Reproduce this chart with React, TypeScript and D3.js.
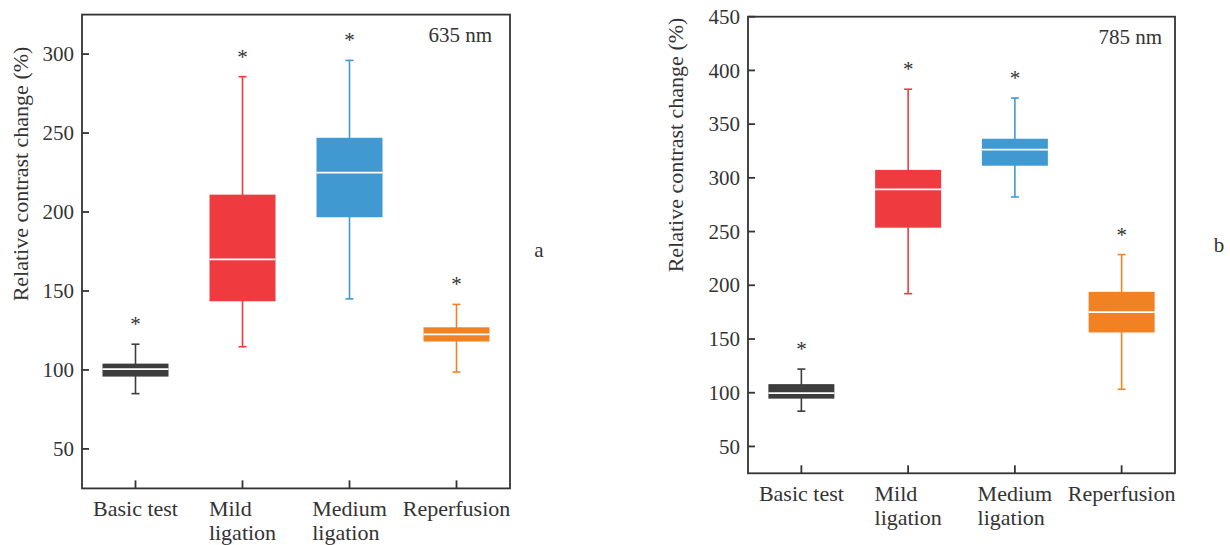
import { useRef, useEffect } from "react";
import * as d3 from "d3";

// categories and labels
const categories = ["Basic test", "Mild ligation", "Medium ligation", "Reperfusion"];
const labelLines = [["Basic test"], ["Mild", "ligation"], ["Medium", "ligation"], ["Reperfusion"]];
const colors = ["#3d3d3d", "#ef3b40", "#4199d2", "#f08224"];

// 635 nm panel
const low635 = [85, 114.7, 145, 98.7];
const q1_635 = [95.8, 143.5, 196.7, 118];
const med635 = [100.5, 170, 225, 122.5];
const q3_635 = [104, 211, 247, 127];
const high635 = [116.3, 285.7, 296, 141.5];
const ticks635 = [50, 100, 150, 200, 250, 300];

// 785 nm panel
const low785 = [82.8, 192.2, 282.2, 103.2];
const q1_785 = [94.5, 253.6, 311.3, 156.1];
const med785 = [99.7, 289.3, 326.2, 175.1];
const q3_785 = [108, 307.4, 336.4, 193.9];
const high785 = [122, 382.5, 374.3, 228.6];
const ticks785 = [50, 100, 150, 200, 250, 300, 350, 400, 450];

const FONT = "'Liberation Serif', 'Times New Roman', serif";
const INK = "#333";

export default function App() {
  const ref = useRef(null);

  function drawChart() {
    const svg = d3.select(ref.current);
    svg.selectAll("*").remove();

    function panel(cfg) {
      const { x0, x1, y0, y1, domain, ticks, low, q1, med, q3, high } = cfg;
      const g = svg.append("g");
      const x = d3.scalePoint().domain(categories).range([x0, x1]).padding(0.5);
      const y = d3.scaleLinear().domain(domain).range([y1, y0]);
      const boxW = 66;
      const rows = categories.map((c, i) => ({
        c, i, low: low[i], q1: q1[i], med: med[i], q3: q3[i], high: high[i],
      }));

      // whiskers, boxes, medians, asterisks
      rows.forEach((d) => {
        const cx = x(d.c);
        const col = colors[d.i];
        g.append("line").attr("x1", cx).attr("x2", cx)
          .attr("y1", y(d.high)).attr("y2", y(d.low))
          .attr("stroke", col).attr("stroke-width", 1.6);
        [d.high, d.low].forEach((v) => {
          g.append("line").attr("x1", cx - 4).attr("x2", cx + 4)
            .attr("y1", y(v)).attr("y2", y(v))
            .attr("stroke", col).attr("stroke-width", 1.6);
        });
        g.append("rect")
          .attr("x", cx - boxW / 2).attr("width", boxW)
          .attr("y", y(d.q3)).attr("height", y(d.q1) - y(d.q3))
          .attr("fill", col);
        g.append("line").attr("x1", cx - boxW / 2).attr("x2", cx + boxW / 2)
          .attr("y1", y(d.med)).attr("y2", y(d.med))
          .attr("stroke", "#fff").attr("stroke-width", 1.8);
        g.append("text")
          .attr("x", cx).attr("y", y(d.high) - 13)
          .attr("text-anchor", "middle")
          .attr("font-family", FONT).attr("font-size", 21)
          .attr("fill", INK)
          .text("*");
      });

      // frame
      g.append("rect")
        .attr("x", x0).attr("y", y0)
        .attr("width", x1 - x0).attr("height", y1 - y0)
        .attr("fill", "none").attr("stroke", INK).attr("stroke-width", 1.8);

      // y ticks
      ticks.forEach((t) => {
        g.append("line").attr("x1", x0).attr("x2", x0 + 7)
          .attr("y1", y(t)).attr("y2", y(t))
          .attr("stroke", INK).attr("stroke-width", 1.8);
        g.append("text")
          .attr("x", x0 - 8).attr("y", y(t))
          .attr("dy", "0.34em")
          .attr("text-anchor", "end")
          .attr("font-family", FONT).attr("font-size", 21)
          .attr("fill", INK)
          .text(t);
      });

      // x ticks + labels
      categories.forEach((c, i) => {
        const cx = x(c);
        g.append("line").attr("x1", cx).attr("x2", cx)
          .attr("y1", y1).attr("y2", y1 - 8)
          .attr("stroke", INK).attr("stroke-width", 1.8);
        const t = g.append("text")
          .attr("font-family", FONT).attr("font-size", 22)
          .attr("fill", INK);
        labelLines[i].forEach((line, k) => {
          t.append("tspan").attr("x", 0).attr("y", y1 + 28 + k * 24).text(line);
        });
        const w = t.node().getBBox().width;
        t.attr("transform", `translate(${cx - w / 2},0)`);
      });

      // axis title
      g.append("text")
        .attr("transform", `translate(${cfg.titleX},${cfg.titleY}) rotate(-90)`)
        .attr("text-anchor", "middle")
        .attr("font-family", FONT).attr("font-size", 22)
        .attr("fill", INK)
        .text("Relative contrast change (%)");

      g.append("text")
        .attr("x", cfg.nmX).attr("y", cfg.nmY)
        .attr("text-anchor", "end")
        .attr("font-family", FONT).attr("font-size", 21)
        .attr("fill", INK)
        .text(cfg.nm);

      g.append("text")
        .attr("x", cfg.letterX).attr("y", cfg.letterY)
        .attr("text-anchor", "middle")
        .attr("font-family", FONT).attr("font-size", 21)
        .attr("fill", INK)
        .text(cfg.letter);
    }

    panel({
      x0: 82, x1: 510, y0: 14.6, y1: 488.4, domain: [25, 325], ticks: ticks635,
      low: low635, q1: q1_635, med: med635, q3: q3_635, high: high635,
      titleX: 28, titleY: 174, nm: "635 nm", nmX: 492, nmY: 42, letter: "a", letterX: 539, letterY: 257,
    });
    panel({
      x0: 748, x1: 1175, y0: 16.7, y1: 473.3, domain: [25, 450], ticks: ticks785,
      low: low785, q1: q1_785, med: med785, q3: q3_785, high: high785,
      titleX: 683, titleY: 145, nm: "785 nm", nmX: 1162, nmY: 44, letter: "b", letterX: 1219, letterY: 252,
    });
  }

  useEffect(drawChart, []);
  return (
    <svg
      ref={ref}
      width={1230}
      height={545}
      style={{ position: "absolute", left: 0, top: 0, background: "#fff" }}
    ></svg>
  );
}
